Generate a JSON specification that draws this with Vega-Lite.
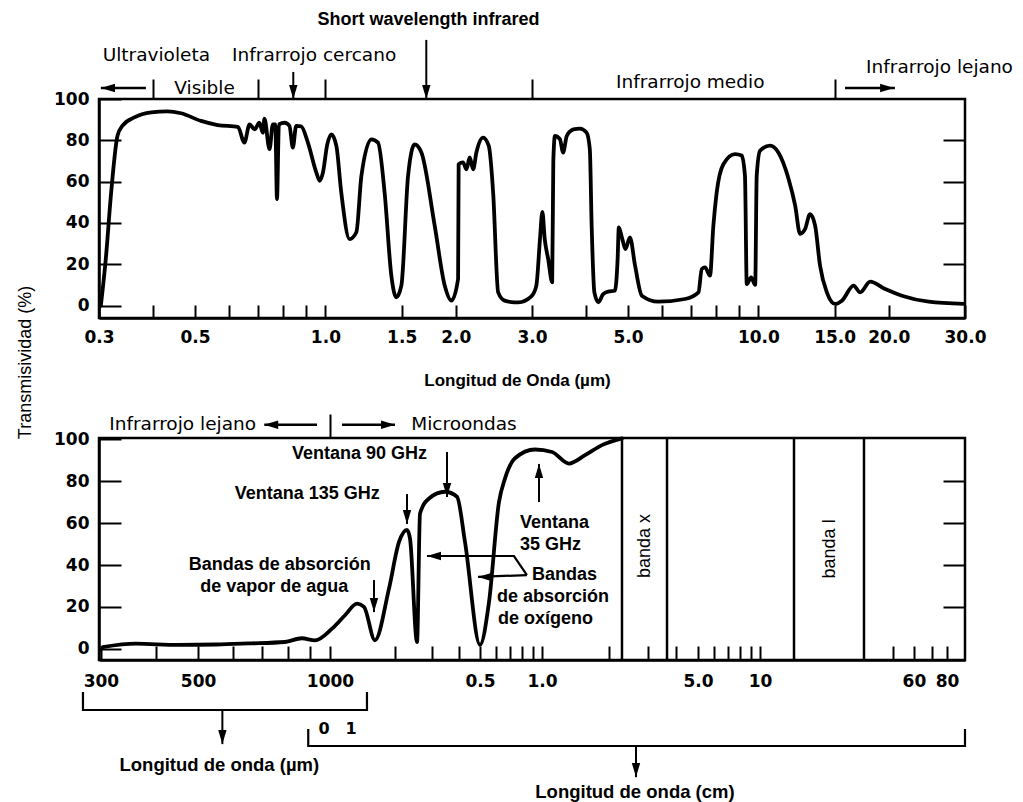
{
  "$schema": "https://vega.github.io/schema/vega-lite/v6.json",
  "background": "white",
  "padding": {"left": 14, "top": 9, "right": 5, "bottom": 0},
  "bounds": "flush",
  "spacing": 120,
  "datasets": {
    "top": [
      {"w":0.303,"t":0},{"w":0.311,"t":22.5},{"w":0.320,"t":54.7},{"w":0.331,"t":82.2},{"w":0.340,"t":87.1},{"w":0.362,"t":91.1},{"w":0.396,"t":93.5},{"w":0.432,"t":94},{"w":0.464,"t":93.1},{"w":0.516,"t":89.4},{"w":0.564,"t":87.4},{"w":0.628,"t":86.5},{"w":0.650,"t":78.9},{"w":0.668,"t":87.7},{"w":0.686,"t":85.3},{"w":0.704,"t":88.5},{"w":0.717,"t":83.7},{"w":0.723,"t":90.5},{"w":0.743,"t":75.7},{"w":0.756,"t":87.7},{"w":0.766,"t":87.7},{"w":0.773,"t":51.5},{"w":0.781,"t":87.7},{"w":0.805,"t":88.5},{"w":0.826,"t":87},{"w":0.841,"t":76.5},{"w":0.856,"t":87},{"w":0.879,"t":86.8},{"w":0.911,"t":78.9},{"w":0.953,"t":64.4},{"w":0.970,"t":60.4},{"w":0.987,"t":64.4},{"w":1.010,"t":78},{"w":1.032,"t":82.9},{"w":1.060,"t":77.3},{"w":1.088,"t":54.7},{"w":1.137,"t":32.2},{"w":1.179,"t":35.5},{"w":1.211,"t":62.8},{"w":1.277,"t":80.5},{"w":1.323,"t":78.9},{"w":1.370,"t":54.7},{"w":1.420,"t":14.5},{"w":1.458,"t":4},{"w":1.498,"t":9.8},{"w":1.552,"t":62.8},{"w":1.607,"t":78},{"w":1.666,"t":74.1},{"w":1.788,"t":38.7},{"w":1.886,"t":9.7},{"w":1.954,"t":2.4},{"w":2.025,"t":12.9},{"w":2.031,"t":68.4},{"w":2.079,"t":69.3},{"w":2.117,"t":66},{"w":2.154,"t":71.7},{"w":2.194,"t":66},{"w":2.232,"t":74.1},{"w":2.313,"t":81.3},{"w":2.384,"t":77.3},{"w":2.440,"t":54.7},{"w":2.506,"t":6.4},{"w":2.594,"t":2.4},{"w":2.734,"t":1.6},{"w":2.79,"t":1.6},{"w":2.99,"t":4.5},{"w":3.07,"t":9.7},{"w":3.13,"t":32.2},{"w":3.17,"t":45.4},{"w":3.21,"t":32.2},{"w":3.27,"t":22.5},{"w":3.34,"t":11.3},{"w":3.36,"t":70},{"w":3.39,"t":82.2},{"w":3.48,"t":80.6},{"w":3.54,"t":74.1},{"w":3.61,"t":82.2},{"w":3.74,"t":85.3},{"w":3.87,"t":85.7},{"w":4.01,"t":83.7},{"w":4.08,"t":75.7},{"w":4.12,"t":38.7},{"w":4.18,"t":6.4},{"w":4.27,"t":1.6},{"w":4.38,"t":5.6},{"w":4.50,"t":6.8},{"w":4.66,"t":7.2},{"w":4.73,"t":22.5},{"w":4.76,"t":37.8},{"w":4.85,"t":32.2},{"w":4.93,"t":27.4},{"w":5.05,"t":33},{"w":5.19,"t":19.3},{"w":5.38,"t":4.8},{"w":5.87,"t":1.9},{"w":6.77,"t":3.2},{"w":7.27,"t":6.4},{"w":7.40,"t":17.7},{"w":7.53,"t":18.5},{"w":7.73,"t":14.5},{"w":7.87,"t":38.7},{"w":8.01,"t":54.7},{"w":8.30,"t":68.4},{"w":8.83,"t":73.3},{"w":9.15,"t":72.6},{"w":9.31,"t":62.8},{"w":9.40,"t":10.4},{"w":9.62,"t":13.7},{"w":9.83,"t":10},{"w":9.91,"t":62.8},{"w":10.09,"t":75},{"w":10.64,"t":77.4},{"w":11.12,"t":74.1},{"w":11.74,"t":61.3},{"w":12.16,"t":48.4},{"w":12.48,"t":34.7},{"w":12.82,"t":37.1},{"w":13.16,"t":44.3},{"w":13.52,"t":38.7},{"w":13.88,"t":19.3},{"w":14.39,"t":6.4},{"w":15.04,"t":0.8},{"w":15.59,"t":2.4},{"w":16.59,"t":9.7},{"w":17.18,"t":6.4},{"w":18.12,"t":11.6},{"w":19.63,"t":8},{"w":21.45,"t":4.8},{"w":24.73,"t":1.9},{"w":29.8,"t":0.8}
    ],
    "bottom": [
      {"cm":0.0303,"t":0.8},{"cm":0.036,"t":2.4},{"cm":0.045,"t":1.8},{"cm":0.055,"t":2.0},{"cm":0.065,"t":2.5},{"cm":0.0789,"t":3.2},{"cm":0.0863,"t":5},{"cm":0.0924,"t":4},{"cm":0.1022,"t":9.6},{"cm":0.1175,"t":16},{"cm":0.1336,"t":21.5},{"cm":0.144,"t":20},{"cm":0.162,"t":4},{"cm":0.1883,"t":28.7},{"cm":0.2097,"t":51},{"cm":0.2285,"t":56.8},{"cm":0.236,"t":52.6},{"cm":0.2544,"t":3.2},{"cm":0.2627,"t":64.6},{"cm":0.2893,"t":71.8},{"cm":0.3435,"t":75},{"cm":0.3907,"t":72.6},{"cm":0.4257,"t":51},{"cm":0.5,"t":1.8},{"cm":0.553,"t":22.3},{"cm":0.618,"t":70},{"cm":0.661,"t":81.3},{"cm":0.739,"t":91},{"cm":0.925,"t":95.2},{"cm":1.109,"t":94},{"cm":1.322,"t":88.5},{"cm":1.561,"t":92.5},{"cm":1.86,"t":97.3},{"cm":2.286,"t":100.5}
    ],
    "topArrowsV": [{"w":0.843,"y1":113.1,"y2":100},{"w":1.71,"y1":128.6,"y2":100}],
    "topArrowsH": [{"w1":0.303,"w2":0.385,"t":105.3},{"w1":15.85,"w2":20.67,"t":105.3}],
    "topHeads": [{"w":0.843,"t":103.4,"dir":"down"},{"w":1.71,"t":103.4,"dir":"down"},{"w":0.3147,"t":105.3,"dir":"left"},{"w":19.83,"t":105.3,"dir":"right"}],
    "topLabels": [{"w":0.407,"t":121.3,"label":"Ultravioleta"},{"w":0.942,"t":121.3,"label":"Infrarrojo cercano"},{"w":0.526,"t":105.3,"label":"Visible"},{"w":6.96,"t":108.2,"label":"Infrarrojo medio"},{"w":26.2,"t":115.5,"label":"Infrarrojo lejano"}],
    "topTitle": [{"w":1.73,"t":138.2,"label":"Short wavelength infrared"}],
    "bands": [{"cm":2.286},{"cm":3.634},{"cm":15.09},{"cm":35.2}],
    "bandLabels": [{"cm":2.91,"t":49.1,"label":"banda x"},{"cm":23.3,"t":47.7,"label":"banda l"}],
    "bottomRegion": [{"cm":0.0461,"t":107.4,"label":"Infrarrojo lejano"},{"cm":0.421,"t":107.4,"label":"Microondas"}],
    "bottomCenter": [{"cm":0.1372,"t":93.1,"label":"Ventana  90 GHz"},{"cm":0.0887,"t":73.9,"label":"Ventana  135 GHz"},{"cm":0.0768,"t":40.0,"label":"Bandas de absorción"},{"cm":0.0746,"t":29.5,"label":"de vapor de agua"}],
    "bottomLeft": [{"cm":0.894,"t":35.2,"label":"Bandas"},{"cm":0.605,"t":24.7,"label":"de absorción"},{"cm":0.611,"t":14.2,"label":"de  oxígeno"},{"cm":0.782,"t":60.1,"label":"Ventana"},{"cm":0.782,"t":49.6,"label":"35 GHz"}],
    "bottomArrowsV": [{"cm":0.351,"y1":94.0,"y2":72.5},{"cm":0.2285,"y1":73.9,"y2":59.6},{"cm":0.1603,"y1":32.8,"y2":17.5},{"cm":0.967,"y1":70.1,"y2":88.3},{"cm":0.0568,"y1":-29.3,"y2":-45.6},{"cm":2.641,"y1":-46.5,"y2":-61.4}],
    "bottomArrowsH": [{"c1":0.0708,"c2":0.0934,"t":107.0},{"c1":0.1137,"c2":0.2009,"t":107.0}],
    "bottomPaths": [
      {"id":"o1","o":0,"cm":0.2832,"t":44.3},{"id":"o1","o":1,"cm":0.731,"t":44.3},{"id":"o1","o":2,"cm":0.845,"t":35.2},
      {"id":"o2","o":0,"cm":0.4894,"t":34.3},{"id":"o2","o":1,"cm":0.845,"t":35.2},
      {"id":"b1","o":0,"cm":0.0273,"t":-20.7},{"id":"b1","o":1,"cm":0.0273,"t":-29.3},{"id":"b1","o":2,"cm":0.1487,"t":-29.3},{"id":"b1","o":3,"cm":0.1487,"t":-20.7},
      {"id":"b2","o":0,"cm":0.0892,"t":-38.4},{"id":"b2","o":1,"cm":0.0892,"t":-46.5},{"id":"b2","o":2,"cm":92,"t":-46.5},{"id":"b2","o":3,"cm":92,"t":-38.4}
    ],
    "bottomHeads": [{"cm":0.351,"t":75.8,"dir":"down"},{"cm":0.2285,"t":63.0,"dir":"down"},{"cm":0.1603,"t":20.9,"dir":"down"},{"cm":0.967,"t":84.9,"dir":"up"},{"cm":0.0568,"t":-42.2,"dir":"down"},{"cm":2.641,"t":-58.0,"dir":"down"},{"cm":0.0734,"t":107.0,"dir":"left"},{"cm":0.1864,"t":107.0,"dir":"right"},{"cm":0.3052,"t":44.3,"dir":"left"},{"cm":0.5284,"t":34.3,"dir":"left"}],
    "bottomAxisNames": [{"cm":0.0559,"t":-55.4,"label":"Longitud de onda (µm)"},{"cm":2.614,"t":-68.5,"label":"Longitud de onda (cm)"}],
    "zeroOne": [{"cm":0.0969,"t":-38.4,"label":"0"},{"cm":0.1253,"t":-38.4,"label":"1"}]
  },
  "vconcat": [
    {
      "width": 866,
      "height": 219,
      "resolve": {"axis": {"x": "independent", "y": "independent"}},
      "layer": [
        {
          "data": {"name": "top"},
          "mark": {"type": "line", "color": "black", "strokeWidth": 3.8, "interpolate": "monotone", "strokeJoin": "round", "strokeCap": "round"},
          "encoding": {
            "x": {"field": "w", "type": "quantitative", "scale": {"type": "log", "domain": [0.3, 30], "nice": false},
              "axis": {"orient": "bottom", "values": [0.3,0.4,0.5,0.6,0.7,0.8,0.9,1,1.5,2,3,4,5,6,7,8,9,10,15,20,30], "tickSize": -13, "labelPadding": 24, "labelOverlap": false, "labelFlush": false,
                "labelExpr": "indexof([0.3,0.5,1,1.5,2,3,5,10,15,20,30], datum.value) >= 0 ? format(datum.value, '.1f') : ''",
                "title": "Longitud de Onda (µm)", "titleFont": "Liberation Sans", "titleFontWeight": "bold", "titleFontSize": 17, "titleX": 418, "titleY": 62, "titleBaseline": "middle"}},
            "y": {"field": "t", "type": "quantitative", "scale": {"domain": [-6, 100], "nice": false, "zero": false},
              "axis": {"orient": "left", "values": [0,20,40,60,80,100], "tickSize": -22, "labelPadding": 32,
                "title": "Transmisividad (%)", "titleFont": "Liberation Sans", "titleFontWeight": "normal", "titleFontSize": 18, "titleX": -74, "titleY": 263, "titleAngle": 270, "titleBaseline": "middle", "titleAlign": "center"}}
          }
        },
        {
          "data": {"name": "topArrowsV"},
          "mark": {"type": "rule", "color": "black", "strokeWidth": 2},
          "encoding": {
            "x": {"field": "w", "type": "quantitative", "scale": {"type": "log", "domain": [0.3, 30], "nice": false},
              "axis": {"orient": "top", "values": [0.4,0.7,1,3,15], "tickSize": 20, "labels": false, "domain": false, "title": null}},
            "y": {"field": "y1", "type": "quantitative", "scale": {"domain": [-6, 100], "nice": false, "zero": false},
              "axis": {"orient": "right", "values": [20,40,60,80], "tickSize": -22, "labels": false, "domain": false, "title": null}},
            "y2": {"field": "y2"}
          }
        },
        {
          "data": {"name": "topArrowsH"},
          "mark": {"type": "rule", "color": "black", "strokeWidth": 2.5},
          "encoding": {
            "x": {"field": "w1", "type": "quantitative", "scale": {"type": "log", "domain": [0.3, 30], "nice": false}, "axis": null},
            "x2": {"field": "w2"},
            "y": {"field": "t", "type": "quantitative", "scale": {"domain": [-6, 100], "nice": false, "zero": false}, "axis": null}
          }
        },
        {
          "data": {"name": "topHeads"},
          "mark": {"type": "point", "filled": true, "color": "black", "size": 196, "opacity": 1, "strokeWidth": 0},
          "encoding": {
            "x": {"field": "w", "type": "quantitative", "scale": {"type": "log", "domain": [0.3, 30], "nice": false}, "axis": null},
            "y": {"field": "t", "type": "quantitative", "scale": {"domain": [-6, 100], "nice": false, "zero": false}, "axis": null},
            "shape": {"field": "dir", "type": "nominal", "legend": null,
              "scale": {"domain": ["down", "up", "left", "right"], "range": ["M0,1L-0.6,-1L0.6,-1Z", "M0,-1L-0.6,1L0.6,1Z", "M-1,0L1,-0.6L1,0.6Z", "M1,0L-1,-0.6L-1,0.6Z"]}}
          }
        },
        {
          "data": {"name": "topLabels"},
          "mark": {"type": "text", "font": "DejaVu Sans", "fontSize": 18.5, "color": "black", "align": "center", "baseline": "middle"},
          "encoding": {
            "x": {"field": "w", "type": "quantitative", "scale": {"type": "log", "domain": [0.3, 30], "nice": false}, "axis": null},
            "y": {"field": "t", "type": "quantitative", "scale": {"domain": [-6, 100], "nice": false, "zero": false}, "axis": null},
            "text": {"field": "label"}
          }
        },
        {
          "data": {"name": "topTitle"},
          "mark": {"type": "text", "font": "Liberation Sans", "fontWeight": "bold", "fontSize": 18, "color": "black", "align": "center", "baseline": "middle"},
          "encoding": {
            "x": {"field": "w", "type": "quantitative", "scale": {"type": "log", "domain": [0.3, 30], "nice": false}, "axis": null},
            "y": {"field": "t", "type": "quantitative", "scale": {"domain": [-6, 100], "nice": false, "zero": false}, "axis": null},
            "text": {"field": "label"}
          }
        }
      ]
    },
    {
      "width": 866,
      "height": 222,
      "resolve": {"axis": {"x": "independent", "y": "independent"}},
      "layer": [
        {
          "data": {"name": "bottom"},
          "mark": {"type": "line", "color": "black", "strokeWidth": 3.8, "interpolate": "monotone", "strokeJoin": "round", "strokeCap": "round"},
          "encoding": {
            "x": {"field": "cm", "type": "quantitative", "scale": {"type": "log", "domain": [0.0297,0.1,0.5,1,2,5,10,50,80,92], "range": [0,231,381,443,510,599,661,794,848,866], "nice": false},
              "axis": {"orient": "bottom", "values": [0.03,0.04,0.05,0.06,0.07,0.08,0.09,0.1,0.2,0.3,0.4,0.5,0.6,0.7,0.8,0.9,1,2,3,4,5,6,7,8,9,10,50,60,70,80], "tickSize": -14, "labelPadding": 27, "labelOverlap": false, "labelFlush": false,
                "labelExpr": "datum.value == 0.03 ? '300' : datum.value == 0.05 ? '500' : datum.value == 0.1 ? '1000' : datum.value == 0.5 ? '0.5' : datum.value == 1 ? '1.0' : datum.value == 5 ? '5.0' : datum.value == 10 ? '10' : datum.value == 60 ? '60' : datum.value == 80 ? '80' : ''",
                "title": null}},
            "y": {"field": "t", "type": "quantitative", "scale": {"domain": [-5.4, 100.7], "nice": false, "zero": false},
              "axis": {"orient": "left", "values": [0,20,40,60,80,100], "tickSize": -22, "labelPadding": 32, "title": null}}
          }
        },
        {
          "data": {"name": "bottomArrowsV"},
          "mark": {"type": "rule", "color": "black", "strokeWidth": 2},
          "encoding": {
            "x": {"field": "cm", "type": "quantitative", "scale": {"type": "log", "domain": [0.0297,0.1,0.5,1,2,5,10,50,80,92], "range": [0,231,381,443,510,599,661,794,848,866], "nice": false},
              "axis": {"orient": "top", "values": [0.1], "tickSize": 24, "labels": false, "domain": false, "title": null}},
            "y": {"field": "y1", "type": "quantitative", "scale": {"domain": [-5.4, 100.7], "nice": false, "zero": false},
              "axis": {"orient": "right", "values": [20,40,60,80], "tickSize": -22, "labels": false, "domain": false, "title": null}},
            "y2": {"field": "y2"}
          }
        },
        {
          "data": {"name": "bands"},
          "mark": {"type": "rule", "color": "black", "strokeWidth": 2.5},
          "encoding": {
            "x": {"field": "cm", "type": "quantitative", "scale": {"type": "log", "domain": [0.0297,0.1,0.5,1,2,5,10,50,80,92], "range": [0,231,381,443,510,599,661,794,848,866], "nice": false}, "axis": null}
          }
        },
        {
          "data": {"name": "bottomArrowsH"},
          "mark": {"type": "rule", "color": "black", "strokeWidth": 2.5},
          "encoding": {
            "x": {"field": "c1", "type": "quantitative", "scale": {"type": "log", "domain": [0.0297,0.1,0.5,1,2,5,10,50,80,92], "range": [0,231,381,443,510,599,661,794,848,866], "nice": false}, "axis": null},
            "x2": {"field": "c2"},
            "y": {"field": "t", "type": "quantitative", "scale": {"domain": [-5.4, 100.7], "nice": false, "zero": false}, "axis": null}
          }
        },
        {
          "data": {"name": "bottomPaths"},
          "mark": {"type": "line", "color": "black", "strokeWidth": 2.2, "interpolate": "linear"},
          "encoding": {
            "x": {"field": "cm", "type": "quantitative", "scale": {"type": "log", "domain": [0.0297,0.1,0.5,1,2,5,10,50,80,92], "range": [0,231,381,443,510,599,661,794,848,866], "nice": false}, "axis": null},
            "y": {"field": "t", "type": "quantitative", "scale": {"domain": [-5.4, 100.7], "nice": false, "zero": false}, "axis": null},
            "detail": {"field": "id"},
            "order": {"field": "o"}
          }
        },
        {
          "data": {"name": "bottomHeads"},
          "mark": {"type": "point", "filled": true, "color": "black", "size": 196, "opacity": 1, "strokeWidth": 0},
          "encoding": {
            "x": {"field": "cm", "type": "quantitative", "scale": {"type": "log", "domain": [0.0297,0.1,0.5,1,2,5,10,50,80,92], "range": [0,231,381,443,510,599,661,794,848,866], "nice": false}, "axis": null},
            "y": {"field": "t", "type": "quantitative", "scale": {"domain": [-5.4, 100.7], "nice": false, "zero": false}, "axis": null},
            "shape": {"field": "dir", "type": "nominal", "legend": null,
              "scale": {"domain": ["down", "up", "left", "right"], "range": ["M0,1L-0.6,-1L0.6,-1Z", "M0,-1L-0.6,1L0.6,1Z", "M-1,0L1,-0.6L1,0.6Z", "M1,0L-1,-0.6L-1,0.6Z"]}}
          }
        },
        {
          "data": {"name": "bottomRegion"},
          "mark": {"type": "text", "font": "DejaVu Sans", "fontSize": 18.5, "color": "black", "align": "center", "baseline": "middle"},
          "encoding": {
            "x": {"field": "cm", "type": "quantitative", "scale": {"type": "log", "domain": [0.0297,0.1,0.5,1,2,5,10,50,80,92], "range": [0,231,381,443,510,599,661,794,848,866], "nice": false}, "axis": null},
            "y": {"field": "t", "type": "quantitative", "scale": {"domain": [-5.4, 100.7], "nice": false, "zero": false}, "axis": null},
            "text": {"field": "label"}
          }
        },
        {
          "data": {"name": "bottomCenter"},
          "mark": {"type": "text", "font": "Liberation Sans", "fontWeight": "bold", "fontSize": 18, "color": "black", "align": "center", "baseline": "middle"},
          "encoding": {
            "x": {"field": "cm", "type": "quantitative", "scale": {"type": "log", "domain": [0.0297,0.1,0.5,1,2,5,10,50,80,92], "range": [0,231,381,443,510,599,661,794,848,866], "nice": false}, "axis": null},
            "y": {"field": "t", "type": "quantitative", "scale": {"domain": [-5.4, 100.7], "nice": false, "zero": false}, "axis": null},
            "text": {"field": "label"}
          }
        },
        {
          "data": {"name": "bottomLeft"},
          "mark": {"type": "text", "font": "Liberation Sans", "fontWeight": "bold", "fontSize": 18, "color": "black", "align": "left", "baseline": "middle"},
          "encoding": {
            "x": {"field": "cm", "type": "quantitative", "scale": {"type": "log", "domain": [0.0297,0.1,0.5,1,2,5,10,50,80,92], "range": [0,231,381,443,510,599,661,794,848,866], "nice": false}, "axis": null},
            "y": {"field": "t", "type": "quantitative", "scale": {"domain": [-5.4, 100.7], "nice": false, "zero": false}, "axis": null},
            "text": {"field": "label"}
          }
        },
        {
          "data": {"name": "bandLabels"},
          "mark": {"type": "text", "font": "Liberation Sans", "fontSize": 18, "color": "black", "align": "center", "baseline": "middle", "angle": 270},
          "encoding": {
            "x": {"field": "cm", "type": "quantitative", "scale": {"type": "log", "domain": [0.0297,0.1,0.5,1,2,5,10,50,80,92], "range": [0,231,381,443,510,599,661,794,848,866], "nice": false}, "axis": null},
            "y": {"field": "t", "type": "quantitative", "scale": {"domain": [-5.4, 100.7], "nice": false, "zero": false}, "axis": null},
            "text": {"field": "label"}
          }
        },
        {
          "data": {"name": "bottomAxisNames"},
          "mark": {"type": "text", "font": "Liberation Sans", "fontWeight": "bold", "fontSize": 18.5, "color": "black", "align": "center", "baseline": "middle"},
          "encoding": {
            "x": {"field": "cm", "type": "quantitative", "scale": {"type": "log", "domain": [0.0297,0.1,0.5,1,2,5,10,50,80,92], "range": [0,231,381,443,510,599,661,794,848,866], "nice": false}, "axis": null},
            "y": {"field": "t", "type": "quantitative", "scale": {"domain": [-5.4, 100.7], "nice": false, "zero": false}, "axis": null},
            "text": {"field": "label"}
          }
        },
        {
          "data": {"name": "zeroOne"},
          "mark": {"type": "text", "font": "DejaVu Sans", "fontWeight": "bold", "fontSize": 16, "color": "black", "align": "center", "baseline": "middle"},
          "encoding": {
            "x": {"field": "cm", "type": "quantitative", "scale": {"type": "log", "domain": [0.0297,0.1,0.5,1,2,5,10,50,80,92], "range": [0,231,381,443,510,599,661,794,848,866], "nice": false}, "axis": null},
            "y": {"field": "t", "type": "quantitative", "scale": {"domain": [-5.4, 100.7], "nice": false, "zero": false}, "axis": null},
            "text": {"field": "label"}
          }
        }
      ]
    }
  ],
  "config": {
    "view": {"stroke": "black", "strokeWidth": 2.5},
    "axis": {"grid": false, "domainColor": "black", "domainWidth": 2.5, "tickColor": "black", "tickWidth": 2, "labelColor": "black", "labelFont": "DejaVu Sans", "labelFontWeight": "bold", "labelFontSize": 17, "titleColor": "black"}
  }
}
